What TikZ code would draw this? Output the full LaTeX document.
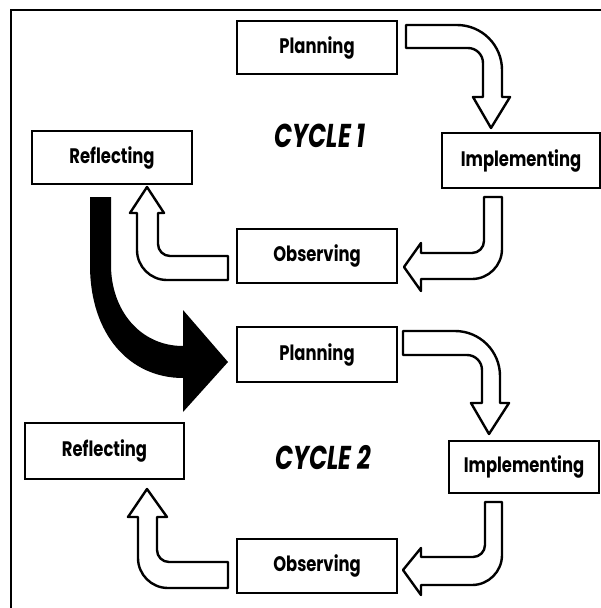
\documentclass[tikz,border=0pt]{standalone}
\usepackage{fontspec}
\newfontfamily\boxfont{Poppins}[FakeStretch=0.78]
\newfontfamily\cyclefont{Poppins}[FakeStretch=0.72]
\begin{document}
\begin{tikzpicture}[x=1pt,y=-1pt,
  stagebox/.style={draw, line width=2.4pt, fill=white, inner sep=0pt,
    font=\boxfont\bfseries\fontsize{21}{23}\selectfont},
  hollowarrow/.style={draw, line width=2.4pt, fill=white, line join=round},
  cyclelabel/.style={font=\cyclefont\bfseries\itshape\fontsize{33}{35}\selectfont},
  frameline/.style={line width=2pt}]
\useasboundingbox (0,0) rectangle (601,608);
\fill[white] (0,0) rectangle (601,608);
\draw[frameline] (10.5,612) -- (10.5,9.5) -- (605,9.5);

% cycle 1
\node[stagebox, minimum width=160pt, minimum height=53pt] (plan1) at (317,47.5) {Planning};
\node[stagebox, minimum width=160pt, minimum height=53pt] (refl1) at (112,157.5) {Reflecting};
\node[stagebox, minimum width=158pt, minimum height=55pt] (impl1) at (521,160.5) {Implementing};
\node[stagebox, minimum width=160pt, minimum height=54pt] (obs1) at (317,256) {Observing};
\node[cyclelabel] (cyc1) at (320,136) {CYCLE 1};

% cycle 2
\node[stagebox, minimum width=160pt, minimum height=55pt] (plan2) at (317,354.5) {Planning};
\node[stagebox, minimum width=159pt, minimum height=56pt] (refl2) at (104.5,451) {Reflecting};
\node[stagebox, minimum width=150pt, minimum height=52pt] (impl2) at (524,467) {Implementing};
\node[stagebox, minimum width=160pt, minimum height=54pt] (obs2) at (317,566) {Observing};
\node[cyclelabel] (cyc2) at (323,458) {CYCLE 2};

% Planning -> Implementing
\draw[hollowarrow] (406,25) [rounded corners=45pt] -- (502,25) [sharp corners] -- (502,97)
  -- (510,97) -- (491,128) -- (473,97) -- (483,97) [rounded corners=15pt] -- (483,48)
  [sharp corners] -- (406,48) -- cycle;
\draw[hollowarrow] (403,331) [rounded corners=45pt] -- (500,331) [sharp corners] -- (500,403)
  -- (509,403) -- (489,434) -- (471,403) -- (482,403) [rounded corners=15pt] -- (482,355)
  [sharp corners] -- (403,355) -- cycle;

% Implementing -> Observing
\draw[hollowarrow] (484,197) -- (502,197) [rounded corners=30pt] -- (502,279) [sharp corners]
  -- (421,279) -- (421,291) -- (404,267) -- (421,243) -- (421,253) [rounded corners=12pt]
  -- (484,253) [sharp corners] -- cycle;
\draw[hollowarrow] (485,502) -- (502,502) [rounded corners=30pt] -- (502,585) [sharp corners]
  -- (421,585) -- (421,595) -- (403,570) -- (421,548) -- (421,557) [rounded corners=12pt]
  -- (485,557) [sharp corners] -- cycle;

% Observing -> Reflecting
\draw[hollowarrow] (228,256) -- (228,280) [rounded corners=30pt] -- (137,280) [sharp corners]
  -- (137,213) -- (130,213) -- (147,187) -- (164,213) -- (158,213) [rounded corners=12pt]
  -- (158,256) [sharp corners] -- cycle;
\draw[hollowarrow] (228,562) -- (228,588) [rounded corners=30pt] -- (138,588) [sharp corners]
  -- (138,517) -- (128,517) -- (147,489) -- (167,517) -- (157,517) [rounded corners=12pt]
  -- (157,562) [sharp corners] -- cycle;

% black arrow Reflecting 1 -> Planning 2
\fill[black] (90,197) -- (90,265) .. controls (90,335) and (130,378) .. (183,378)
  -- (183,412) -- (228,362) -- (183,310) -- (183,346)
  .. controls (140,346) and (111,310) .. (111,265) -- (111,197) -- cycle;
\end{tikzpicture}
\end{document}
